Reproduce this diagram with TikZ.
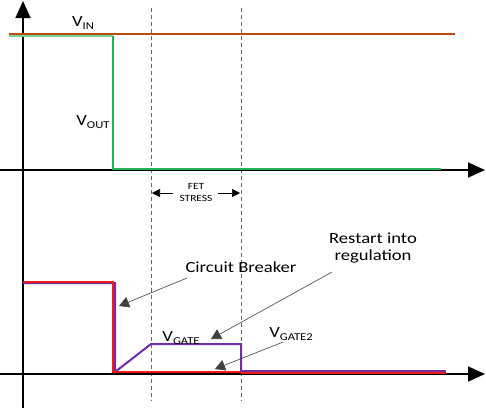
\documentclass[tikz,border=0pt]{standalone}
\usepackage{fontspec}
\setmainfont{Carlito}[FakeStretch=1.2]
\usetikzlibrary{arrows.meta}
\definecolor{vincol}{RGB}{185,75,20}
\definecolor{voutcol}{RGB}{35,180,85}
\definecolor{redcol}{RGB}{240,25,25}
\definecolor{purpcol}{RGB}{112,45,170}
\newcommand\vlab[1]{V\raisebox{-0.35ex}{\fontsize{10.5}{11}\selectfont #1}}
\begin{document}
\begin{tikzpicture}[x=1pt,y=-1pt,
  axis/.style={line width=1.7pt,-{Triangle[length=17pt,width=15pt]}},
  guide/.style={gray!80!black,line width=0.7pt,dash pattern=on 4pt off 3pt},
  trace/.style={line width=2pt,line join=miter},
  label/.style={inner sep=0pt,font=\fontsize{15.5}{17}\selectfont},
  small/.style={inner sep=0pt,font=\fontsize{9.5}{10}\selectfont},
  leader/.style={draw=black!75,line width=0.6pt,-{Triangle[length=10pt,width=11pt]}},
  stressarrow/.style={line width=0.7pt,-{Triangle[length=8pt,width=8pt]}}]
\useasboundingbox (0,0) rectangle (486,410);

% dashed guides
\coordinate (g1t) at (151,8); \coordinate (g1b) at (151,401);
\coordinate (g2t) at (241,8); \coordinate (g2b) at (241,401);
\draw[guide] (g1t) -- (g1b);
\draw[guide] (g2t) -- (g2b);

% axes
\coordinate (yb) at (23,408); \coordinate (yt) at (23,1);
\coordinate (x1l) at (0,170); \coordinate (x1r) at (485,170);
\coordinate (x2l) at (0,374); \coordinate (x2r) at (485,374);
\draw[axis] (yb) -- (yt);
\draw[axis] (x1l) -- (x1r);
\draw[axis] (x2l) -- (x2r);

% top traces
\draw[trace,voutcol!60!white] (9,36) -- (113,36);
\draw[trace,voutcol] (113,36) -- (113,169) -- (441,169);
\draw[trace,vincol] (9,34) -- (455,34);

% bottom traces
\draw[trace,purpcol] (23,283) -- (115,283) -- (115,372) -- (151,344) -- (241,344) -- (241,371);
\draw[trace,redcol] (23,282) -- (113,282) -- (113,372) -- (241,372);
\draw[trace,redcol] (241,373) -- (446,373);
\draw[trace,purpcol] (241,371) -- (446,371);

% labels
\node[label] (vin) at (83,23) {\vlab{IN}};
\node[label] (vout) at (93,122) {\vlab{OUT}};
\node[small] (fet) at (196,186) {FET};
\node[small] (stress) at (196,198) {STRESS};
\coordinate (sa1) at (173,193); \coordinate (sa1t) at (152,193);
\coordinate (sa2) at (218,193); \coordinate (sa2t) at (240,193);
\draw[stressarrow] (sa1) -- (sa1t);
\draw[stressarrow] (sa2) -- (sa2t);

\node[label] (cb) at (241,267) {Circuit Breaker};
\node[label,align=center] (rr) at (373,247.5) {Restart into\\regulation};
\node[label] (vgate) at (181,338) {\vlab{GATE}};
\node[label] (vgate2) at (291,334) {\vlab{GATE2}};

\coordinate (cbs) at (187,278); \coordinate (cbt) at (119,306);
\coordinate (rrs) at (332,272); \coordinate (rrt) at (211,339);
\coordinate (vg2s) at (283,342); \coordinate (vg2t) at (215,369);
\draw[leader] (cbs) -- (cbt);
\draw[leader] (rrs) -- (rrt);
\draw[leader] (vg2s) -- (vg2t);
\end{tikzpicture}
\end{document}
